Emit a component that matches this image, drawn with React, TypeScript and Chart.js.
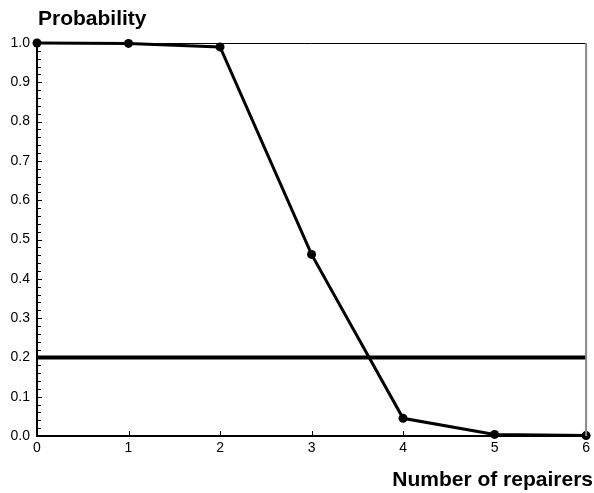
import React, { useEffect, useRef } from "react";
import { Chart, registerables } from "chart.js";

Chart.register(...registerables);

const repairers = [0, 1, 2, 3, 4, 5, 6];
const probability = [1.0, 0.999, 0.99, 0.462, 0.045, 0.004, 0.001];
const thresholdValue = 0.2;
const yTitle = "Probability";
const xTitle = "Number of repairers";

const FONT = "Arial, 'Liberation Sans', sans-serif";

const decorPlugin = {
  id: "decor",
  afterDraw(chart: any) {
    const ctx = chart.ctx;
    const { left, right, top, bottom } = chart.chartArea;
    const xs = chart.scales.x;
    const ys = chart.scales.y;
    ctx.save();
    // frame top and right
    ctx.strokeStyle = "#000";
    ctx.lineWidth = 1;
    ctx.beginPath();
    ctx.moveTo(left, top + 0.5);
    ctx.lineTo(right, top + 0.5);
    ctx.stroke();
    ctx.strokeStyle = "#888";
    ctx.lineWidth = 2;
    ctx.beginPath();
    ctx.moveTo(right, top);
    ctx.lineTo(right, bottom);
    ctx.stroke();
    // inward ticks
    ctx.strokeStyle = "#000";
    ctx.lineWidth = 1;
    for (let i = 1; i < 50; i++) {
      const y = Math.round(ys.getPixelForValue(i * 0.02)) + 0.5;
      ctx.beginPath();
      ctx.moveTo(left, y);
      ctx.lineTo(left + (i % 5 === 0 ? 5 : 4), y);
      ctx.stroke();
    }
    for (let i = 1; i < repairers.length - 1; i++) {
      const x = Math.round(xs.getPixelForValue(repairers[i])) + 0.5;
      ctx.beginPath();
      ctx.moveTo(x, bottom);
      ctx.lineTo(x, bottom - 5);
      ctx.stroke();
    }
    // titles
    ctx.fillStyle = "#000";
    ctx.textBaseline = "alphabetic";
    ctx.font = `bold 21px ${FONT}`;
    ctx.textAlign = "left";
    ctx.fillText(yTitle, left + 1, 25);
    ctx.textAlign = "right";
    ctx.fillText(xTitle, 593, 486);
    ctx.restore();
  },
};

export default function App() {
  const ref = useRef<HTMLCanvasElement>(null);
  useEffect(() => {
    const canvas = ref.current;
    if (!canvas) return;
    const chart = new Chart(canvas, {
      type: "line",
      data: {
        datasets: [
          {
            data: repairers.map((x, i) => ({ x, y: probability[i] })),
            borderColor: "#000",
            backgroundColor: "#000",
            borderWidth: 3,
            pointRadius: 4.5,
            pointBackgroundColor: "#000",
            pointBorderWidth: 0,
            clip: false as any,
            order: 1,
          },
          {
            data: [
              { x: repairers[0], y: thresholdValue },
              { x: repairers[repairers.length - 1], y: thresholdValue },
            ],
            borderColor: "#000",
            borderWidth: 4,
            pointRadius: 0,
            order: 2,
          },
        ],
      },
      options: {
        animation: false,
        responsive: false,
        maintainAspectRatio: false,
        layout: { padding: { top: 43, right: 3, bottom: 0, left: 0 } },
        plugins: {
          legend: { display: false },
          tooltip: { enabled: false },
          title: { display: false },
        },
        scales: {
          x: {
            type: "linear",
            min: 0,
            max: 6,
            ticks: {
              stepSize: 1,
              color: "#000",
              font: { family: FONT, size: 14 },
              padding: 4,
            },
            grid: { display: false, drawTicks: false },
            border: { color: "#000", width: 2 },
            afterFit: (s: any) => {
              s.height = 57;
            },
          },
          y: {
            type: "linear",
            min: 0,
            max: 1,
            ticks: {
              stepSize: 0.1,
              color: "#000",
              font: { family: FONT, size: 14 },
              padding: 7,
              callback: (v: any) => Number(v).toFixed(1),
            },
            grid: { display: false, drawTicks: false },
            border: { color: "#000", width: 2 },
            afterFit: (s: any) => {
              s.width = 37;
            },
          },
        },
      } as any,
      plugins: [decorPlugin],
    });
    return () => chart.destroy();
  }, []);
  return (
    <div style={{ position: "fixed", left: 0, top: 0, width: 594, height: 493, background: "#fff" }}>
      <canvas ref={ref} width={594} height={493} style={{ width: 594, height: 493 }} />
    </div>
  );
}
